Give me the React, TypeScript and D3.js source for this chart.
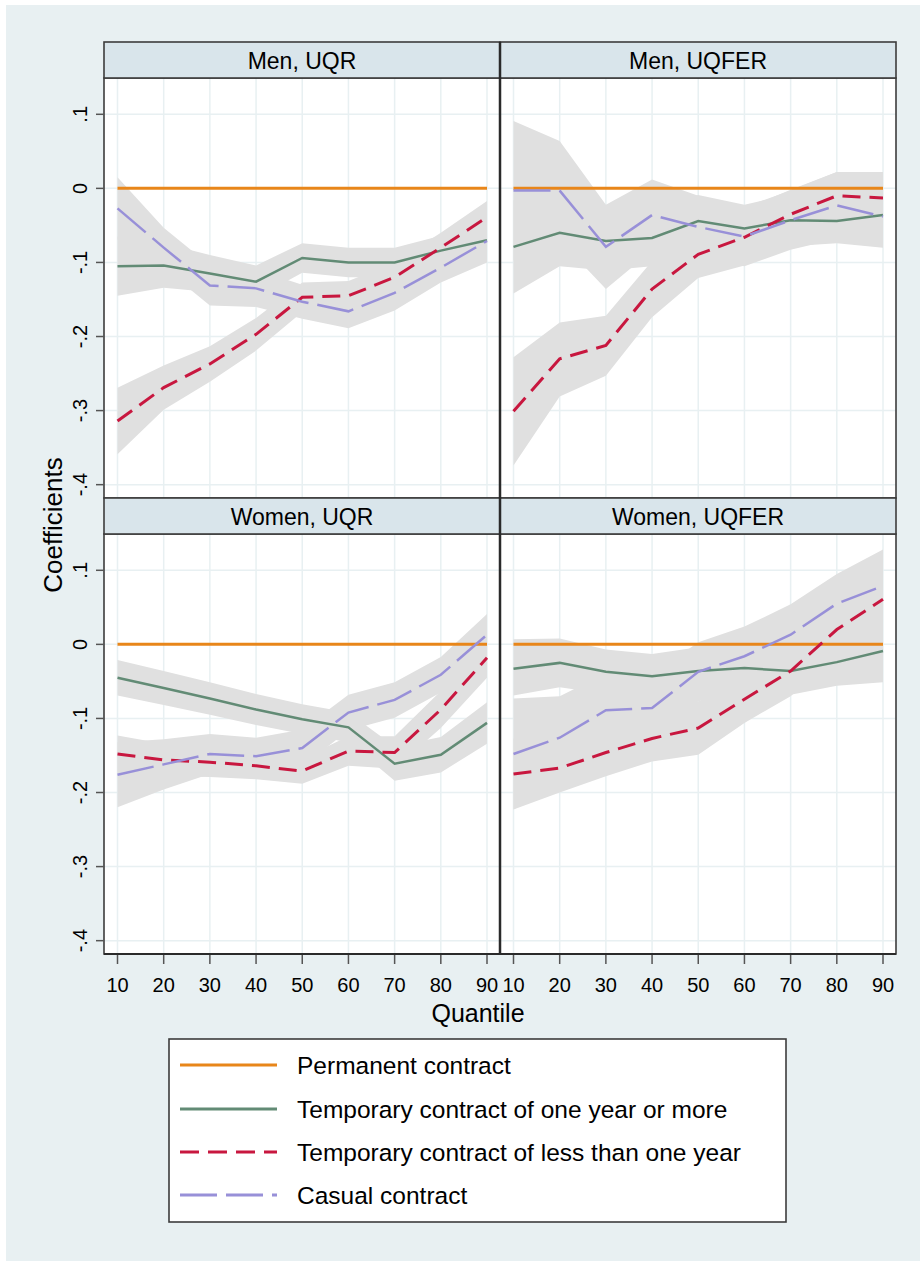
import * as d3 from "d3";

const quantiles = [10, 20, 30, 40, 50, 60, 70, 80, 90];
const yTicks = [0.1, 0, -0.1, -0.2, -0.3, -0.4];
const yTickLabels = [".1", "0", "-.1", "-.2", "-.3", "-.4"];
const panelTitles = ["Men, UQR", "Men, UQFER", "Women, UQR", "Women, UQFER"];
const seriesNames = [
  "Permanent contract",
  "Temporary contract of one year or more",
  "Temporary contract of less than one year",
  "Casual contract",
];

const permanent = [0, 0, 0, 0, 0, 0, 0, 0, 0];

// Men, UQR
const menUqrLong = [-0.105, -0.104, -0.115, -0.126, -0.094, -0.1, -0.1, -0.084, -0.07];
const menUqrLongLo = [-0.145, -0.134, -0.14, -0.148, -0.114, -0.12, -0.12, -0.104, -0.09];
const menUqrLongHi = [-0.065, -0.074, -0.09, -0.104, -0.074, -0.08, -0.08, -0.064, -0.05];
const menUqrShort = [-0.314, -0.269, -0.237, -0.197, -0.147, -0.145, -0.12, -0.08, -0.039];
const menUqrShortLo = [-0.359, -0.299, -0.261, -0.219, -0.167, -0.165, -0.14, -0.1, -0.061];
const menUqrShortHi = [-0.269, -0.239, -0.213, -0.175, -0.127, -0.125, -0.1, -0.06, -0.017];
const menUqrCasual = [-0.027, -0.08, -0.131, -0.135, -0.153, -0.166, -0.141, -0.107, -0.071];
const menUqrCasualLo = [-0.069, -0.107, -0.158, -0.16, -0.176, -0.189, -0.165, -0.127, -0.1];
const menUqrCasualHi = [0.015, -0.053, -0.104, -0.11, -0.13, -0.143, -0.117, -0.087, -0.042];

// Men, UQFER
const menFerLong = [-0.079, -0.06, -0.071, -0.067, -0.044, -0.054, -0.043, -0.044, -0.036];
const menFerLongLo = [-0.142, -0.105, -0.111, -0.105, -0.079, -0.086, -0.078, -0.074, -0.08];
const menFerLongHi = [-0.016, -0.015, -0.031, -0.029, -0.009, -0.022, -0.008, -0.014, 0.008];
const menFerShort = [-0.301, -0.23, -0.212, -0.136, -0.089, -0.066, -0.035, -0.01, -0.013];
const menFerShortLo = [-0.374, -0.281, -0.253, -0.174, -0.121, -0.104, -0.068, -0.042, -0.048];
const menFerShortHi = [-0.228, -0.181, -0.172, -0.098, -0.057, -0.028, -0.002, 0.022, 0.022];
const menFerCasual = [-0.003, -0.003, -0.079, -0.036, -0.052, -0.065, -0.043, -0.023, -0.038];
const menFerCasualLo = [-0.097, -0.07, -0.136, -0.084, -0.094, -0.105, -0.083, -0.068, -0.078];
const menFerCasualHi = [0.091, 0.064, -0.022, 0.012, -0.01, -0.025, -0.003, 0.022, 0.002];

// Women, UQR
const womenUqrLong = [-0.045, -0.059, -0.073, -0.088, -0.101, -0.112, -0.161, -0.149, -0.106];
const womenUqrLongLo = [-0.069, -0.082, -0.095, -0.109, -0.121, -0.132, -0.184, -0.173, -0.134];
const womenUqrLongHi = [-0.021, -0.036, -0.051, -0.067, -0.081, -0.092, -0.138, -0.125, -0.078];
const womenUqrShort = [-0.148, -0.156, -0.159, -0.164, -0.171, -0.144, -0.146, -0.088, -0.018];
const womenUqrShortLo = [-0.173, -0.178, -0.179, -0.182, -0.188, -0.164, -0.168, -0.113, -0.045];
const womenUqrShortHi = [-0.123, -0.134, -0.139, -0.146, -0.154, -0.124, -0.124, -0.063, 0.009];
const womenUqrCasual = [-0.176, -0.162, -0.148, -0.151, -0.14, -0.092, -0.075, -0.041, 0.013];
const womenUqrCasualLo = [-0.22, -0.196, -0.175, -0.176, -0.165, -0.116, -0.099, -0.065, -0.015];
const womenUqrCasualHi = [-0.132, -0.128, -0.121, -0.126, -0.115, -0.068, -0.051, -0.017, 0.041];

// Women, UQFER
const womenFerLong = [-0.033, -0.025, -0.037, -0.043, -0.036, -0.032, -0.036, -0.024, -0.009];
const womenFerLongLo = [-0.069, -0.058, -0.067, -0.073, -0.068, -0.066, -0.068, -0.056, -0.051];
const womenFerLongHi = [0.007, 0.008, -0.007, -0.013, -0.004, 0.002, 0.0, 0.012, 0.033];
const womenFerShort = [-0.175, -0.167, -0.146, -0.127, -0.113, -0.074, -0.036, 0.02, 0.061];
const womenFerShortLo = [-0.223, -0.2, -0.178, -0.158, -0.149, -0.106, -0.07, -0.015, 0.026];
const womenFerShortHi = [-0.127, -0.134, -0.114, -0.096, -0.077, -0.042, -0.002, 0.055, 0.096];
const womenFerCasual = [-0.148, -0.126, -0.089, -0.086, -0.037, -0.016, 0.013, 0.055, 0.079];
const womenFerCasualLo = [-0.223, -0.182, -0.139, -0.131, -0.077, -0.056, -0.028, 0.015, 0.03];
const womenFerCasualHi = [-0.073, -0.07, -0.039, -0.041, 0.003, 0.024, 0.054, 0.095, 0.128];

const COLORS = ["#e8861a", "#628b75", "#c8173f", "#9890d8"];
const DASHES = [null, null, "18 9", "37 9"];
const WIDTHS = [3, 2.5, 3, 2.5];
const BAND = "#e0e0e0";
const GRID = "#e8f0f2";
const FRAME = "#3c3c3c";
const FONT = "'Liberation Sans', Arial, sans-serif";

const PANEL_X = [104, 500];
const PANEL_W = 396;
const ROW_Y = [42, 498];
const HEAD_H = 36;
const PLOT_H = 420;

const panels = [
  {
    title: panelTitles[0], col: 0, row: 0,
    lines: [permanent, menUqrLong, menUqrShort, menUqrCasual],
    bands: [[menUqrLongLo, menUqrLongHi], [menUqrShortLo, menUqrShortHi], [menUqrCasualLo, menUqrCasualHi]],
  },
  {
    title: panelTitles[1], col: 1, row: 0,
    lines: [permanent, menFerLong, menFerShort, menFerCasual],
    bands: [[menFerLongLo, menFerLongHi], [menFerShortLo, menFerShortHi], [menFerCasualLo, menFerCasualHi]],
  },
  {
    title: panelTitles[2], col: 0, row: 1,
    lines: [permanent, womenUqrLong, womenUqrShort, womenUqrCasual],
    bands: [[womenUqrLongLo, womenUqrLongHi], [womenUqrShortLo, womenUqrShortHi], [womenUqrCasualLo, womenUqrCasualHi]],
  },
  {
    title: panelTitles[3], col: 1, row: 1,
    lines: [permanent, womenFerLong, womenFerShort, womenFerCasual],
    bands: [[womenFerLongLo, womenFerLongHi], [womenFerShortLo, womenFerShortHi], [womenFerCasualLo, womenFerCasualHi]],
  },
];

const Panel = ({ p }) => {
  const x0 = PANEL_X[p.col];
  const headTop = ROW_Y[p.row];
  const plotTop = headTop + HEAD_H;
  const x = d3.scaleLinear().domain([10, 90]).range([x0 + 13.5, x0 + PANEL_W - 13]);
  const y = d3.scaleLinear().domain([-0.418, 0.149]).range([plotTop + PLOT_H, plotTop]);

  const line = d3.line<number>().x((_, i) => x(quantiles[i])).y((d) => y(d));
  const area = d3
    .area<number>()
    .x((_, i) => x(quantiles[i]))
    .y0((_, i) => 0)
    .y1((d) => y(d));

  const bandPath = (lo: number[], hi: number[]) =>
    d3
      .area<number>()
      .x((_, i) => x(quantiles[i]))
      .y0((_, i) => y(lo[i]))
      .y1((_, i) => y(hi[i]))(quantiles);

  return (
    <g>
      <rect x={x0} y={plotTop} width={PANEL_W} height={PLOT_H} fill="#fff" />
      {quantiles.map((q) => (
        <line key={"v" + q} x1={x(q)} x2={x(q)} y1={plotTop} y2={plotTop + PLOT_H} stroke={GRID} strokeWidth={1.5} />
      ))}
      {yTicks.map((t) => (
        <line key={"h" + t} x1={x0} x2={x0 + PANEL_W} y1={y(t)} y2={y(t)} stroke={GRID} strokeWidth={1.5} />
      ))}
      {p.bands.map(([lo, hi], i) => (
        <path key={"b" + i} d={bandPath(lo, hi) || ""} fill={BAND} />
      ))}
      {p.lines.map((vals, i) => (
        <path
          key={"l" + i}
          d={line(vals) || ""}
          fill="none"
          stroke={COLORS[i]}
          strokeWidth={WIDTHS[i]}
          strokeDasharray={DASHES[i] || undefined}
        />
      ))}
      <rect x={x0} y={plotTop} width={PANEL_W} height={PLOT_H} fill="none" stroke={FRAME} strokeWidth={1.6} />
      <rect x={x0} y={headTop} width={PANEL_W} height={HEAD_H} fill="#d9e5eb" stroke={FRAME} strokeWidth={1.6} />
      <text x={x0 + PANEL_W / 2} y={headTop + 26.5} textAnchor="middle" fontSize={23} fontFamily={FONT} fill="#000">
        {p.title}
      </text>
      {p.col === 0 &&
        yTicks.map((t, i) => (
          <g key={"yt" + t}>
            <line x1={x0 - 8} x2={x0} y1={y(t)} y2={y(t)} stroke="#555" strokeWidth={1.5} />
            <text
              transform={`translate(${x0 - 17},${y(t)}) rotate(-90)`}
              textAnchor="middle"
              fontSize={20}
              fontFamily={FONT}
              fill="#000"
            >
              {yTickLabels[i]}
            </text>
          </g>
        ))}
      {p.row === 1 &&
        quantiles.map((q) => (
          <g key={"xt" + q}>
            <line x1={x(q)} x2={x(q)} y1={plotTop + PLOT_H} y2={plotTop + PLOT_H + 10} stroke="#555" strokeWidth={1.5} />
            <text x={x(q)} y={plotTop + PLOT_H + 38} textAnchor="middle" fontSize={20} fontFamily={FONT} fill="#000">
              {q}
            </text>
          </g>
        ))}
    </g>
  );
};

const legendRows = [1065, 1109, 1152, 1195];

export default function App() {
  return (
    <svg width={920} height={1261} style={{ position: "absolute", left: 0, top: 0, display: "block" }}>
      <rect x={0} y={0} width={920} height={1261} fill="#fff" />
      <rect x={6} y={5} width={914} height={1256} fill="#e8f0f2" />
      {panels.map((p, i) => (
        <Panel key={i} p={p} />
      ))}
      <line x1={104} x2={896} y1={954} y2={954} stroke="#2a2a2a" strokeWidth={2} />
      <line x1={500} x2={500} y1={42} y2={954} stroke="#2a2a2a" strokeWidth={2.5} />
      <text
        transform="translate(62,525) rotate(-90)"
        textAnchor="middle"
        fontSize={26}
        fontFamily={FONT}
        fill="#000"
      >
        Coefficients
      </text>
      <text x={478} y={1022} textAnchor="middle" fontSize={25} fontFamily={FONT} fill="#000">
        Quantile
      </text>
      <rect x={169} y={1039} width={617} height={183} fill="#fff" stroke={FRAME} strokeWidth={1.6} />
      {seriesNames.map((name, i) => (
        <g key={name}>
          <line
            x1={180}
            x2={277}
            y1={legendRows[i]}
            y2={legendRows[i]}
            stroke={COLORS[i]}
            strokeWidth={3}
            strokeDasharray={i === 2 ? "19 9" : DASHES[i] || undefined}
          />
          <text x={297} y={legendRows[i] + 9} fontSize={24.5} fontFamily={FONT} fill="#000">
            {name}
          </text>
        </g>
      ))}
    </svg>
  );
}
